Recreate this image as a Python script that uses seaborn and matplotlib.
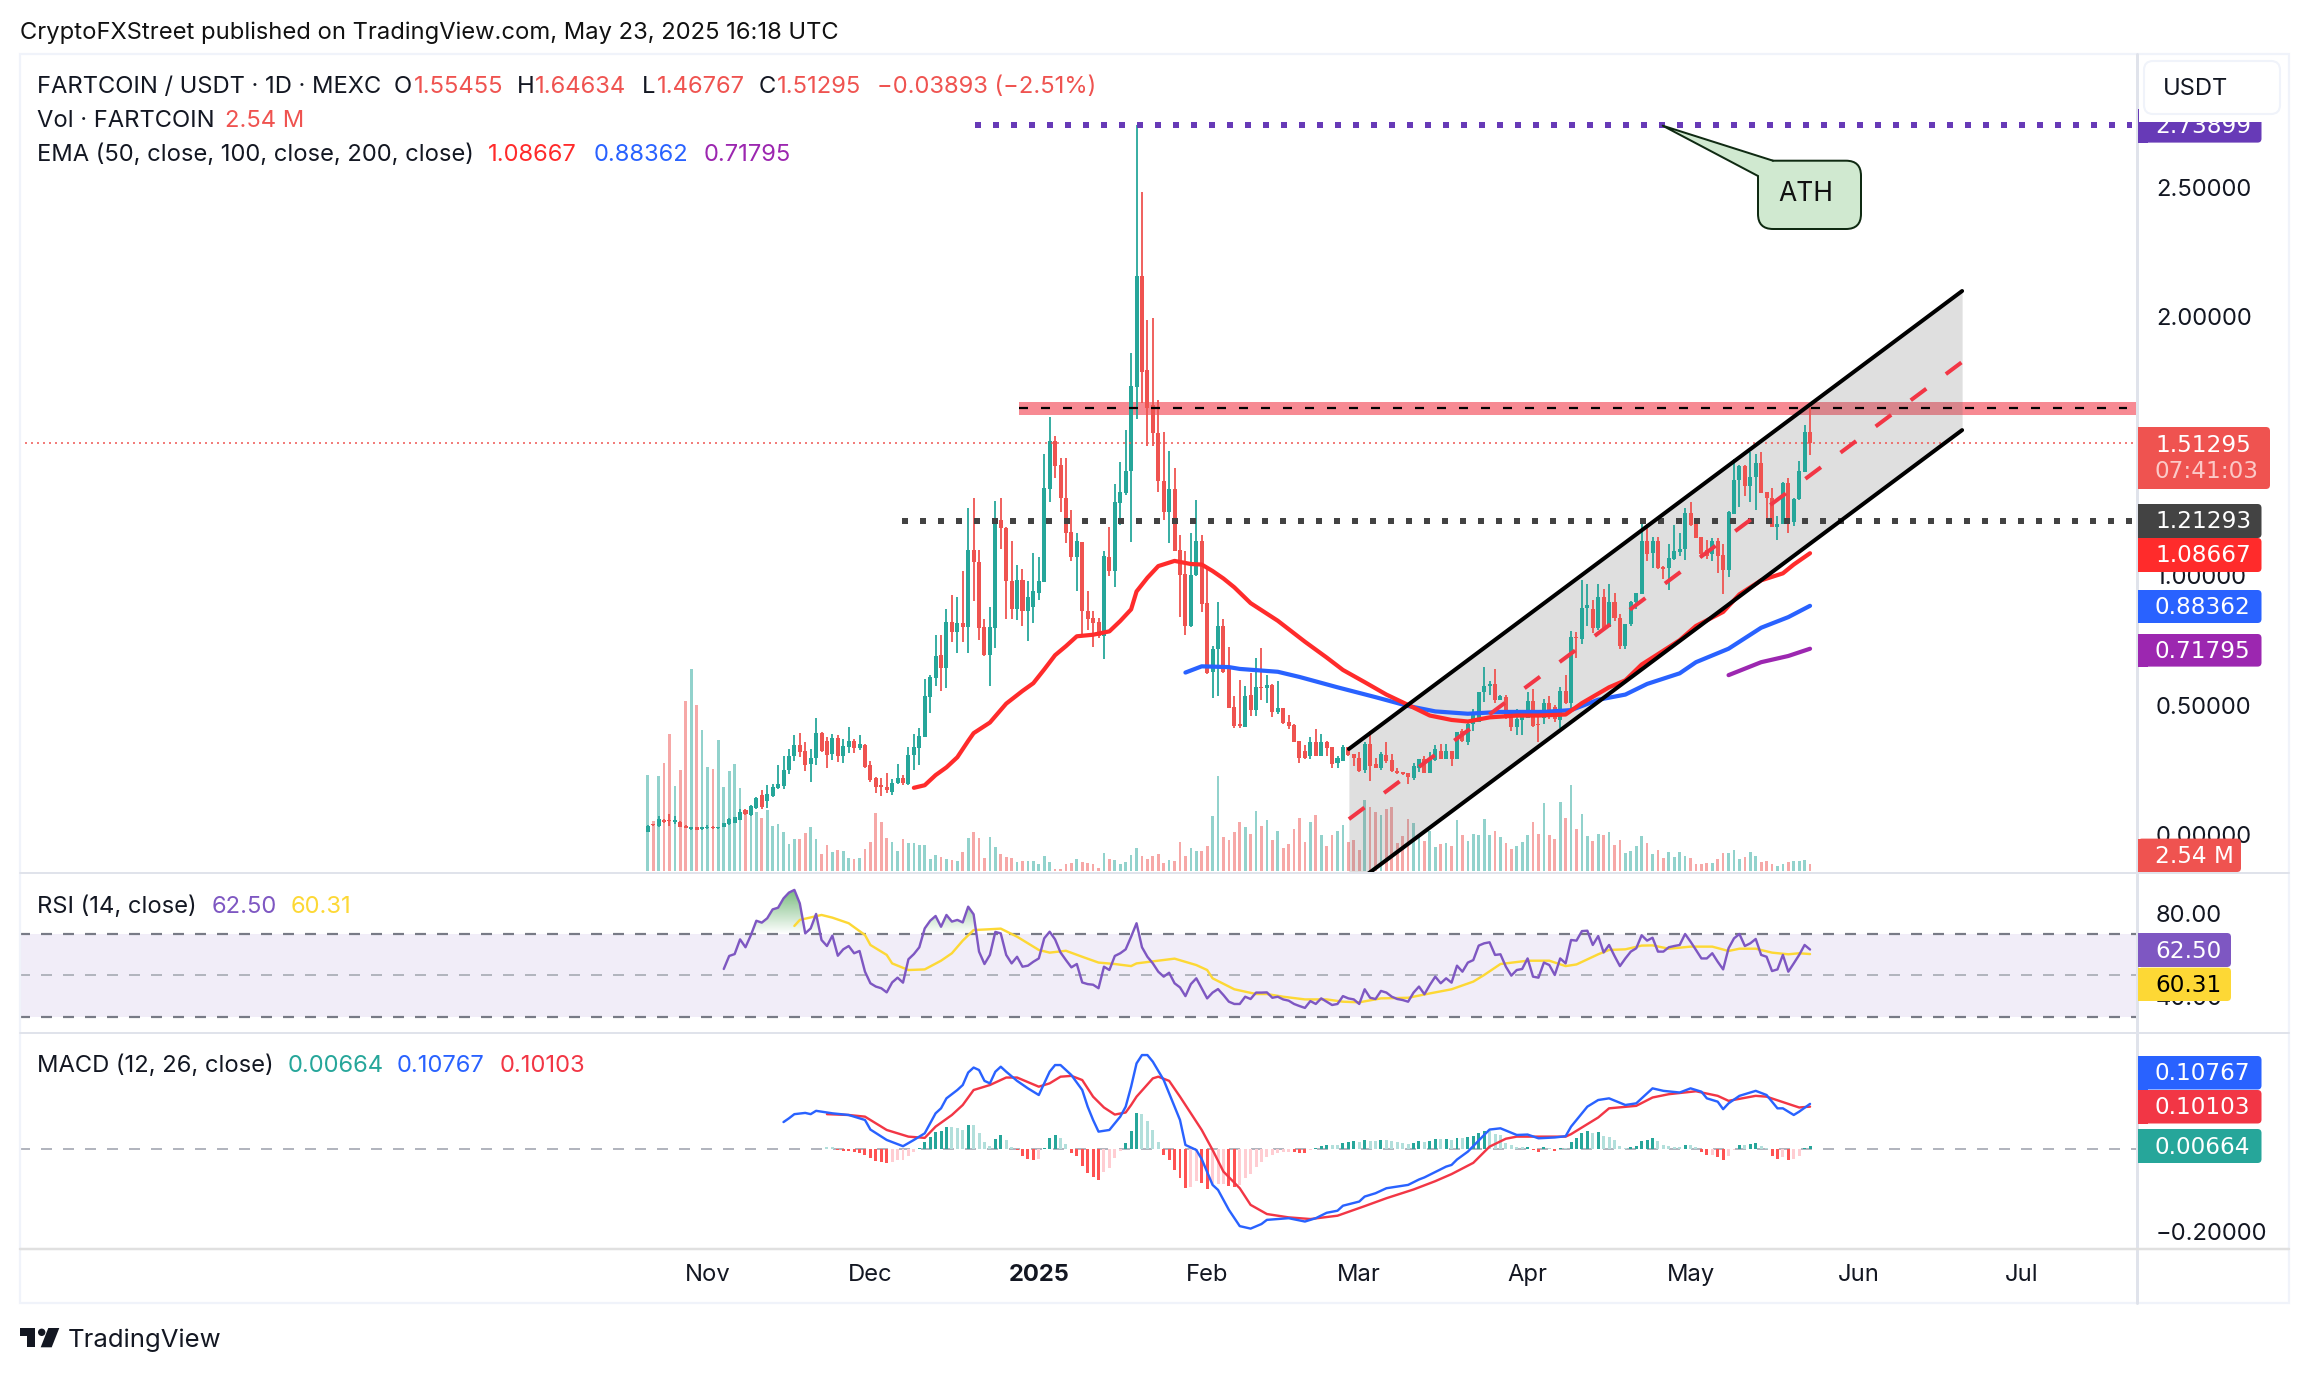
import numpy as np
import pandas as pd
import matplotlib
matplotlib.use("Agg")
import matplotlib.pyplot as plt
from matplotlib.patches import FancyBboxPatch, Rectangle, Polygon, Circle, PathPatch
import seaborn as sns

# candles, one per day, index 0 = 21 Oct 2024
open_px = [
    .012,.040,.035,.057,.055,.049,.049,.035,.022,.028,
    .022,.024,.031,.024,.030,.041,.047,.057,.094,.075,
    .102,.152,.132,.150,.181,.189,.248,.305,.346,.323,
    .272,.295,.394,.362,.311,.372,.305,.339,.362,.335,
    .348,.270,.220,.191,.185,.165,.201,.220,.197,.309,
    .335,.378,.531,.604,.693,.644,.821,.781,.817,.801,
    1.098,1.053,.801,.693,.799,1.215,1.185,.978,.870,.982,
    .864,.880,.933,.974,1.333,1.520,1.429,1.299,1.169,1.073,
    1.130,.864,.835,.821,.766,1.073,1.018,1.280,1.319,1.406,
    1.730,2.156,1.795,1.657,1.549,1.366,1.244,1.333,1.100,1.008,
    .805,1.004,1.134,.894,.629,.718,.806,.646,.494,.426,
    .415,.539,.483,.569,.565,.578,.474,.491,.437,.424,
    .361,.325,.304,.356,.304,.359,.338,.277,.284,.338,
    .311,.298,.250,.352,.273,.257,.307,.288,.246,.243,
    .237,.217,.257,.291,.237,.288,.325,.294,.325,.294,
    .399,.359,.429,.437,.551,.573,.582,.521,.532,.467,
    .415,.443,.451,.518,.429,.451,.510,.494,.443,.555,
    .510,.765,.754,.876,.871,.799,.917,.803,.898,.835,
    .727,.812,.898,.930,1.134,1.087,1.135,1.032,1.029,1.063,
    1.090,1.104,1.242,1.199,1.151,1.101,1.083,1.134,1.079,1.020,
    1.239,1.368,1.422,1.345,1.382,1.436,1.323,1.300,1.188,1.201,
    1.359,1.209,1.296,1.402,1.55455]
high_px = [
    .038,.042,.073,.060,.079,.073,.051,.037,.031,.030,
    .031,.037,.035,.031,.047,.063,.069,.098,.098,.114,
    .144,.171,.191,.195,.270,.303,.332,.384,.392,.358,
    .329,.451,.398,.378,.388,.386,.368,.417,.368,.384,
    .350,.283,.222,.220,.240,.216,.274,.230,.339,.388,
    .413,.600,.618,.772,.772,.870,.925,.917,1.018,1.260,
    1.299,1.098,.834,.880,1.287,1.299,1.189,1.134,1.043,1.027,
    .978,1.087,1.071,1.470,1.612,1.539,1.453,1.453,1.254,1.165,
    1.130,.939,.864,.835,1.096,1.189,1.352,1.437,1.563,1.860,
    2.739,2.480,1.988,1.996,1.677,1.555,1.480,1.417,1.156,1.096,
    1.165,1.293,1.158,1.036,.730,.898,.833,.724,.535,.596,
    .575,.623,.681,.722,.616,.580,.592,.491,.464,.426,
    .361,.345,.379,.409,.388,.361,.338,.304,.345,.338,
    .311,.318,.359,.399,.298,.318,.356,.311,.257,.243,
    .237,.275,.293,.304,.318,.345,.352,.352,.325,.396,
    .410,.433,.487,.551,.646,.592,.640,.541,.541,.467,
    .487,.474,.551,.564,.467,.524,.537,.501,.569,.616,
    .785,.781,.985,.966,.907,.966,.948,.966,.934,.853,
    .812,.901,.934,1.205,1.201,1.148,1.151,1.036,1.124,1.196,
    1.165,1.260,1.285,1.199,1.151,1.138,1.144,1.144,1.124,1.250,
    1.449,1.426,1.429,1.476,1.470,1.476,1.323,1.337,1.232,1.361,
    1.377,1.300,1.443,1.581,1.64634]
low_px = [
    .010,.035,.031,.047,.035,.043,.028,.024,.020,.018,
    .020,.022,.022,.022,.028,.039,.045,.055,.075,.072,
    .098,.100,.102,.146,.177,.177,.236,.283,.299,.244,
    .205,.270,.319,.256,.289,.280,.276,.315,.315,.327,
    .256,.205,.161,.148,.161,.152,.197,.191,.191,.250,
    .270,.378,.470,.573,.553,.567,.744,.703,.744,.703,
    .903,.752,.689,.575,.720,1.102,.832,.832,.830,.805,
    .748,.816,.905,.974,1.283,1.378,1.244,1.126,1.057,.939,
    .772,.791,.725,.761,.677,.998,.955,1.197,1.313,1.130,
    1.604,1.667,1.500,1.500,1.323,1.215,1.126,1.096,.841,.772,
    .801,.998,.860,.620,.528,.535,.623,.489,.413,.413,
    .415,.460,.460,.521,.508,.456,.467,.426,.410,.359,
    .277,.291,.291,.304,.304,.304,.257,.257,.284,.304,
    .264,.241,.239,.209,.257,.250,.277,.243,.234,.230,
    .194,.213,.241,.237,.237,.284,.294,.294,.266,.294,
    .359,.345,.399,.437,.514,.541,.508,.521,.447,.402,
    .386,.386,.451,.415,.356,.429,.447,.437,.413,.505,
    .487,.684,.735,.806,.779,.792,.799,.803,.826,.718,
    .718,.806,.873,.928,1.056,1.029,1.025,.989,.944,1.060,
    1.077,1.059,1.192,1.144,1.070,1.066,1.056,1.009,.928,.995,
    1.239,1.266,1.307,1.283,1.253,1.318,1.223,1.188,1.138,1.201,
    1.165,1.192,1.293,1.399,1.46767]
close_px = [
    .035,.037,.059,.049,.051,.057,.030,.026,.030,.020,
    .030,.030,.024,.030,.045,.061,.067,.087,.079,.110,
    .142,.106,.156,.185,.197,.250,.305,.346,.319,.268,
    .295,.394,.323,.309,.374,.305,.343,.362,.335,.350,
    .260,.211,.185,.185,.173,.201,.220,.201,.309,.339,
    .382,.535,.610,.689,.644,.821,.781,.817,.801,1.098,
    1.051,.797,.693,.801,1.220,1.185,.978,.870,.982,.864,
    .919,.939,.978,1.339,1.520,1.425,1.299,1.165,1.071,1.134,
    .862,.831,.817,.768,1.077,1.018,1.283,1.323,1.406,1.732,
    2.156,1.785,1.648,1.549,1.366,1.244,1.333,1.096,1.002,.807,
    1.004,1.134,.890,.623,.718,.806,.630,.491,.419,.419,
    .537,.483,.569,.565,.578,.474,.491,.433,.419,.359,
    .295,.295,.356,.304,.356,.336,.274,.298,.338,.307,
    .298,.246,.352,.264,.257,.311,.284,.246,.237,.234,
    .221,.264,.291,.239,.298,.332,.294,.325,.294,.396,
    .361,.429,.467,.551,.573,.582,.521,.535,.451,.415,
    .447,.453,.518,.419,.424,.510,.480,.447,.555,.510,
    .762,.758,.876,.887,.799,.917,.799,.898,.835,.727,
    .812,.898,.934,1.134,1.083,1.135,1.029,1.025,1.070,1.094,
    1.104,1.242,1.195,1.147,1.083,1.077,1.134,1.077,1.020,1.246,
    1.368,1.422,1.345,1.382,1.436,1.321,1.300,1.188,1.201,1.359,
    1.201,1.296,1.405,1.554,1.51295]
volume_m = [
    34.8,18.1,34.4,39.2,49.8,30.9,36.8,61.8,73.4,60.3,
    51.2,37.9,37,47.4,30.5,36.4,39,30,21.6,23.1,
    21.3,19.1,22.2,16.5,17,14.2,9.8,11.5,11.5,13.7,
    16.1,11.7,6.3,9.6,6.8,7.8,7.4,4.6,4.3,4.8,
    8,10.7,20.9,17.9,11.8,10.7,7.4,11.5,10.2,10,
    9.3,9.6,4.3,5.9,5,4.3,4.1,3.7,7,11.8,
    14.2,11.8,4.8,12.4,8.7,6.1,5.2,4.6,3.3,3.7,
    3.7,3.7,2.6,5.4,3.1,.9,.9,2.4,2.8,4.3,
    3.3,2.8,2.4,1.1,6.7,4.3,4.1,2.6,3.1,5.9,
    8.5,5.6,4.4,5.6,6.3,2.8,4.1,3.7,10.7,5.6,
    8.3,7.4,7.2,8.9,19.9,34.4,12.2,11.1,14.2,17.9,
    15.8,13.5,21.8,16.4,18.5,11.1,14.7,8.2,9.7,15.2,
    19.3,10.7,17.9,20.3,13.2,9.2,13,14.7,16.8,10.5,
    11.3,7.8,25.8,23.3,21.4,20.5,22.6,23.3,10.3,12.6,
    18.9,17.3,13.2,11,14.7,8.6,9.7,10.3,9.1,18.5,
    13.2,11,13.5,13,18.9,13,14.5,12.2,10.1,7.9,
    9.1,10.7,13.2,17.9,13.5,24.6,13.2,11.6,24.9,19.2,
    31.2,15.4,20.8,12.6,11,13.5,13.2,14,9.5,11.1,
    6.6,7.2,9.2,12.7,10.1,6.3,7.6,4.8,6.9,5,
    6.9,5.3,4.8,2.5,2.5,2.8,2.8,4.4,6.7,6.7,
    7.6,4.4,5,6.9,5.4,3.4,3.7,2.5,1.9,2.5,
    3.2,3.5,3.7,3.9,2.54]

# EMAs, read at these day indexes
ema50_x = [49,51,53,55,57,59,60,63,66,69,71,73,75,77,79,82,85,87,89,90,92,94,97,100,102,104,
           106,108,111,116,121,125,128,132,136,140,144,148,151,155,160,164,169,172,177,180,183,
           186,190,193,198,201,205,209,211,214]
ema50_y = [.181,.191,.230,.260,.299,.362,.392,.433,.506,.555,.585,.638,.693,.728,.766,.772,.785,
           .825,.870,.939,.992,1.037,1.057,1.045,1.043,1.018,.989,.955,.894,.826,.745,.684,.636,
           .589,.541,.501,.460,.443,.437,.453,.460,.460,.464,.508,.569,.596,.657,.697,.751,.806,
           .860,.928,.982,1.009,1.043,1.08667]
ema100_x = [99,102,107,109,116,120,127,134,140,145,151,157,165,170,175,180,184,190,193,199,205,210,214]
ema100_y = [.626,.650,.647,.640,.629,.609,.569,.531,.497,.476,.467,.474,.474,.481,.521,.541,.582,
            .623,.666,.718,.799,.840,.88362]
ema200_x = [199,205,210,214]
ema200_y = [.616,.666,.690,.71795]

# RSI from index 14
RSI_START = 14
rsi_values = [
    53.1,59.4,60.3,67.4,63.6,69.5,76.4,75.5,77.6,81.9,82.7,87.2,90,91.3,84.8,70.3,72.7,79.7,67.1,64.2,
    69.2,59.5,62.6,64.2,60.7,61.8,51.8,46.2,44.6,43.8,41.8,46.6,48.9,46.5,57.8,60.3,63.6,72.7,76.4,78.7,
    73.5,79.2,76,76.8,75.6,83.2,79.5,61.5,55.5,59.9,71,70.3,59.9,55.8,59,54.2,54.7,56.6,58.2,67.9,
    71.1,67.4,61.1,57.4,53.9,55.5,46.6,45.8,45.5,43.8,54.2,52.6,59.4,60.7,62.6,68.7,75.2,63.6,59,55.8,
    51.8,49.4,51.3,46.2,44.2,40,45.8,48.6,43.8,38.9,41.7,43.4,40.5,37.3,36.2,36.2,39.7,38.6,41.7,41.7,
    41.8,39.2,39.7,38.4,37.8,36.2,35.2,34.3,37.6,36.2,38.9,37.3,35.7,36.2,40,38.9,38.4,36.2,43.3,39.2,
    38.6,42.5,41.7,39.7,38.6,38.1,37.3,41.7,44.6,40.9,45.4,49.4,46.2,48.6,46.5,54.7,51.8,56.2,57.4,64.4,
    65.5,66,59.9,60.2,54.2,49.9,52.6,53.1,58.2,49.4,48.9,56.2,55,50.2,58.2,55.8,67.1,66.8,71.4,71.6,
    64.7,69,61.1,64.7,59.4,54.5,58.2,61.5,63.1,69.4,66.8,68.2,61.5,61.5,63.6,64.2,64.7,70,66.3,62.3,
    58.2,58.2,60.7,56.6,52.9,63.1,67.9,70,64.2,65.5,67.6,59.9,59,52.1,52.9,59.9,51.8,55.8,59.9,64.7,62.5]
rsi_ma_x = [27,28,32,34,37,40,41,44,45,48,51,54,56,58,60,63,65,68,72,74,77,80,83,86,89,90,97,101,103,104,
            108,112,114,117,121,125,128,131,135,140,144,148,152,154,157,162,166,169,171,175,177,180,183,
            185,188,192,196,199,201,204,207,210,212,214]
rsi_ma_y = [73.9,76.8,79.2,77.9,75.2,69.5,64.7,59.9,55.8,52.6,52.9,57.1,60.7,66.8,71.9,72.3,72.6,68.7,
            62.3,61,61.9,59,56.2,55.5,54.5,55.8,58.1,55,52.6,48.6,43.3,41,41,39.7,38.4,38.4,37.3,37,
            38.9,39.2,41.3,43.3,47,50.2,55.5,57.1,57.1,54.5,55.3,60.2,62.3,62.6,64.4,64.5,62.9,63.9,
            63.9,61.8,62.9,62.9,61,60.2,60.7,60.31]

# MACD
macd_x = [25,26,27,29,30,31,32,34,37,40,41,44,47,49,51,53,54,55,57,58,59,60,61,62,63,64,65,66,68,70,72,74,
          75,76,78,80,81,82,83,85,87,88,89,90,91,92,93,95,96,98,99,101,102,104,105,107,109,111,113,114,118,
          121,123,125,127,128,131,132,134,136,140,142,143,147,148,149,151,154,155,157,160,162,164,167,169,
          170,173,175,177,180,182,185,187,190,192,194,195,197,198,199,201,204,206,208,209,211,212,214]
macd_y = [.064,.073,.083,.086,.083,.091,.089,.085,.081,.069,.046,.021,.006,.021,.037,.085,.097,.121,.141,
          .153,.183,.195,.189,.163,.157,.185,.197,.185,.163,.145,.129,.185,.201,.201,.177,.141,.101,.069,
          .041,.045,.077,.101,.149,.205,.225,.225,.209,.165,.133,.069,.009,-.003,-.025,-.087,-.099,-.147,
          -.186,-.192,-.181,-.171,-.167,-.175,-.167,-.154,-.149,-.137,-.127,-.115,-.107,-.095,-.087,-.074,
          -.069,-.043,-.039,-.026,-.007,.033,.046,.049,.033,.034,.025,.027,.030,.053,.101,.117,.121,.105,
          .109,.145,.139,.135,.145,.137,.121,.113,.095,.109,.127,.139,.129,.097,.097,.081,.089,.10767]
signal_x = [33,37,40,44,48,51,53,56,58,60,63,66,68,72,74,76,78,80,82,84,86,88,89,90,93,94,96,98,100,102,104,
            106,109,111,114,118,122,127,132,136,141,145,148,152,155,158,160,169,170,175,177,182,185,188,193,
            197,199,204,206,212,214]
signal_y = [.083,.081,.077,.045,.029,.026,.053,.081,.105,.141,.153,.171,.171,.149,.157,.173,.175,.165,.125,
            .099,.082,.087,.105,.125,.169,.173,.163,.125,.085,.045,-.003,-.055,-.095,-.135,-.157,-.165,-.169,
            -.161,-.138,-.119,-.098,-.078,-.061,-.034,.005,.024,.029,.029,.035,.075,.097,.103,.123,.131,.138,
            .127,.115,.127,.125,.099,.10103]
HIST_START = 33
hist_values = [
    .005,.005,-.003,-.005,-.006,-.007,-.010,-.014,-.022,-.029,
    -.032,-.034,-.033,-.027,-.026,-.017,-.008,.002,.016,.027,
    .039,.042,.052,.052,.050,.045,.057,.057,.037,.016,
    .006,.023,.032,.021,.003,-.004,-.018,-.025,-.027,-.025,
    .002,.025,.032,.025,.011,-.010,-.018,-.042,-.058,-.068,
    -.075,-.055,-.046,-.022,-.005,.013,.042,.085,.083,.067,
    .045,.016,-.015,-.027,-.051,-.070,-.094,-.092,-.078,-.082,
    -.097,-.085,-.085,-.085,-.090,-.091,-.087,-.071,-.061,-.043,
    -.032,-.021,-.015,-.010,-.007,-.007,-.0075,-.010,-.0105,-.003,
    .002,.006,.009,.009,.009,.013,.017,.018,.015,.021,
    .018,.018,.021,.021,.018,.015,.013,.011,.014,.018,
    .016,.018,.024,.023,.024,.022,.026,.026,.028,.030,
    .037,.042,.042,.036,.032,.014,.009,.005,.003,.004,
    -.003,-.007,.003,.001,-.005,.002,.002,.015,.026,.037,
    .042,.038,.040,.030,.029,.020,.007,.001,.004,.006,
    .018,.021,.026,.018,.010,.006,.003,.003,.008,.008,
    .005,-.007,-.015,-.015,-.021,-.027,-.018,-.003,.009,.009,
    .011,.013,.006,.002,-.018,-.024,-.019,-.027,-.024,-.017,
    .002,.00664]

# levels drawn on the chart
ATH_LEVEL = 2.73899
SUPPORT_LEVEL = 1.21293
LAST_PRICE = 1.51295
RESIST_LOW, RESIST_MID, RESIST_HIGH = 1.622, 1.647, 1.670
CHANNEL_X = [129.1, 242]
CHANNEL_UP = [.331, 2.099]
CHANNEL_MID = [.060, 1.825]
CHANNEL_LOW = [-.206, 1.562]

month_ticks = [11, 41, 72, 103, 131, 162, 192, 223, 253]
month_labels = ["Nov", "Dec", "2025", "Feb", "Mar", "Apr", "May", "Jun", "Jul"]
price_ticks = [0, .5, 1, 2, 2.5]

UP, DOWN = "#26A69A", "#EF5350"
INK = "#131722"
W, H = 2308, 1374
PT = 0.72  # one picture pixel in points at dpi 100
FS = 17.1

sns.set_theme(style="white")
plt.rcParams["font.family"] = ["Inter", "DejaVu Sans"]
plt.rcParams["lines.scale_dashes"] = False
plt.rcParams["axes.unicode_minus"] = True

fig = plt.figure(figsize=(W / 100, H / 100), dpi=100, facecolor="white")


def px_axes(x0, y0, x1, y1):
    a = fig.add_axes([x0 / W, 1 - y1 / H, (x1 - x0) / W, (y1 - y0) / H])
    a.patch.set_visible(False)
    sns.despine(ax=a, left=True, bottom=True)
    a.set_xlim(XMIN, XMAX)
    return a


def draw_bars(a, xs, heights, color, width, bottoms=None, alpha=1.0, zorder=2):
    xs = np.asarray(xs)
    if len(xs) == 0:
        return
    if len(xs) > 1:
        width = width / np.min(np.diff(xs))
    kws = {} if bottoms is None else {"bottom": np.asarray(bottoms)}
    frame = pd.DataFrame({"day": xs, "size": np.asarray(heights)})
    sns.barplot(data=frame, x="day", y="size", native_scale=True, color=color, saturation=1,
                width=width, errorbar=None, linewidth=0, alpha=alpha, zorder=zorder, ax=a, **kws)


def hline(a, y, x0, x1, color, lw_px, on_px, off_px, zorder=5):
    a.plot([x0, x1], [y, y], color=color, lw=lw_px * PT, dashes=(on_px * PT, off_px * PT),
           dash_capstyle="butt", zorder=zorder)


XMIN, XMAX = -115.76, 274.2
ax_vol = px_axes(19, 54, 2137, 872)
ax = px_axes(19, 54, 2137, 872)
ax_rsi = px_axes(19, 873, 2137, 1032)
ax_macd = px_axes(19, 1033, 2137, 1249)

days = np.arange(len(close_px))
opens, highs, lows, closes = map(np.array, (open_px, high_px, low_px, close_px))
volume = np.array(volume_m)
is_up = closes >= opens

# volume sits behind everything else in the price pane
draw_bars(ax_vol, days[is_up], volume[is_up], UP, 0.5, alpha=0.5, zorder=1)
draw_bars(ax_vol, days[~is_up], volume[~is_up], DOWN, 0.5, alpha=0.5, zorder=1)

# resistance band and channel shade
ax.fill_between([68.3, XMAX], RESIST_LOW, RESIST_HIGH, color="#F23645", alpha=0.58, lw=0, zorder=1)
ax.fill_between(CHANNEL_X, CHANNEL_LOW, CHANNEL_UP, color="#787878", alpha=0.23, lw=0, zorder=1.5)

# candles
ax.vlines(days[is_up], lows[is_up], highs[is_up], color=UP, lw=1.8 * PT, zorder=2)
ax.vlines(days[~is_up], lows[~is_up], highs[~is_up], color=DOWN, lw=1.8 * PT, zorder=2)
body_low = np.minimum(opens, closes)
body_size = np.abs(closes - opens)
draw_bars(ax, days[is_up], body_size[is_up], UP, 0.74, bottoms=body_low[is_up], zorder=2.5)
draw_bars(ax, days[~is_up], body_size[~is_up], DOWN, 0.74, bottoms=body_low[~is_up], zorder=2.5)

# EMAs
for xs, ys, col in [(ema200_x, ema200_y, "#9C27B0"), (ema100_x, ema100_y, "#2962FF"),
                    (ema50_x, ema50_y, "#FF2B2B")]:
    sns.lineplot(x=xs, y=ys, color=col, linewidth=4.2 * PT, estimator=None, sort=False, ax=ax, zorder=3)

# levels and channel
hline(ax, LAST_PRICE, XMIN, XMAX, DOWN, 1.5, 2, 4, zorder=2.8)
hline(ax, ATH_LEVEL, 60.2, XMAX - 1, "#673AB7", 6, 6, 12)
hline(ax, SUPPORT_LEVEL, 46.9, XMAX - 1, "#434343", 6, 6, 12)
hline(ax, RESIST_MID, 68.3, 272.4, "black", 2.2, 9, 13)
sns.lineplot(x=CHANNEL_X, y=CHANNEL_UP, color="black", linewidth=4 * PT, estimator=None, ax=ax, zorder=5)
sns.lineplot(x=CHANNEL_X, y=CHANNEL_LOW, color="black", linewidth=4 * PT, estimator=None, ax=ax, zorder=5)
ax.plot(CHANNEL_X, CHANNEL_MID, color="#F23645", lw=4 * PT, dashes=(19.4 * PT, 24.4 * PT),
        dash_capstyle="butt", zorder=5)

ax_vol.set_ylim(-0.363, 296.6)
ax_vol.set_xlim(XMIN, XMAX)
ax_vol.set_xticks([])
ax_vol.set_yticks([])
ax_vol.set_xlabel("")
ax_vol.set_ylabel("")

ax.set_xlim(XMIN, XMAX)
ax.set_ylim(-0.144, 3.014)
ax.set_xticks([])
ax.yaxis.tick_right()
ax.set_yticks(price_ticks)
ax.set_yticklabels([f"{t:.5f}" for t in price_ticks], color=INK, fontsize=FS)
ax.tick_params(axis="y", length=0, pad=13.7)
ax.set_xlabel("")
ax.set_ylabel("")

# RSI pane
rsi_days = np.arange(RSI_START, RSI_START + len(rsi_values))
rsi = np.array(rsi_values)
ax_rsi.axhspan(30, 70, color="#7E57C2", alpha=0.1, lw=0, zorder=1)
hline(ax_rsi, 70, XMIN, XMAX, "#787B86", 2.2, 11, 11, zorder=2)
hline(ax_rsi, 30, XMIN, XMAX, "#787B86", 2.2, 11, 11, zorder=2)
hline(ax_rsi, 50, XMIN, XMAX, "#B2B5BE", 2.0, 11, 11, zorder=2)

green_fade = np.zeros((64, 2, 4))
green_fade[..., :3] = matplotlib.colors.to_rgb("#3E9E46")
green_fade[..., 3] = np.linspace(0.75, 0, 64)[:, None]
over = ax_rsi.fill_between(rsi_days, 70, rsi, where=rsi >= 70, interpolate=True, color="none", lw=0)
for path in over.get_paths():
    im = ax_rsi.imshow(green_fade, extent=(XMIN, XMAX, 70, 93), aspect="auto", zorder=1.5)
    im.set_clip_path(PathPatch(path, transform=ax_rsi.transData))

sns.lineplot(x=rsi_ma_x, y=rsi_ma_y, color="#FDD835", linewidth=2.4 * PT, estimator=None, ax=ax_rsi, zorder=3)
sns.lineplot(x=rsi_days, y=rsi, color="#7E57C2", linewidth=2.4 * PT, estimator=None, ax=ax_rsi, zorder=4)
ax_rsi.set_xlim(XMIN, XMAX)
ax_rsi.set_ylim(22.66, 99.47)
ax_rsi.set_xticks([])
ax_rsi.yaxis.tick_right()
ax_rsi.set_yticks([40, 80])
ax_rsi.set_yticklabels(["40.00", "80.00"], color=INK, fontsize=FS)
ax_rsi.tick_params(axis="y", length=0, pad=13.7)
ax_rsi.set_xlabel("")
ax_rsi.set_ylabel("")

# MACD pane
hist_days = np.arange(HIST_START, HIST_START + len(hist_values))
hist = np.array(hist_values)
prev = np.concatenate(([hist[0]], hist[:-1]))
groups = [((hist >= 0) & (hist > prev), "#26A69A"), ((hist >= 0) & (hist <= prev), "#B2DFDB"),
          ((hist < 0) & (hist >= prev), "#FFCDD2"), ((hist < 0) & (hist < prev), "#FF5252")]
hline(ax_macd, 0, XMIN, XMAX, "#B2B5BE", 2.0, 11, 11, zorder=1)
for mask, col in groups:
    draw_bars(ax_macd, hist_days[mask], hist[mask], col, 0.55, zorder=2)
sns.lineplot(x=signal_x, y=signal_y, color="#F23645", linewidth=2.4 * PT, estimator=None, ax=ax_macd, zorder=3)
sns.lineplot(x=macd_x, y=macd_y, color="#2962FF", linewidth=2.4 * PT, estimator=None, ax=ax_macd, zorder=4)
ax_macd.set_xlim(XMIN, XMAX)
ax_macd.set_ylim(-0.241, 0.278)
ax_macd.yaxis.tick_right()
ax_macd.set_yticks([-0.2])
ax_macd.set_yticklabels(["\u22120.20000"], color=INK, fontsize=FS)
ax_macd.set_xticks(month_ticks)
ax_macd.set_xticklabels(month_labels, color=INK, fontsize=FS)
ax_macd.get_xticklabels()[2].set_fontweight("bold")
ax_macd.tick_params(axis="y", length=0, pad=13.7)
ax_macd.tick_params(axis="x", length=0, pad=11)
ax_macd.set_xlabel("")
ax_macd.set_ylabel("")

# everything below is page furniture placed in picture pixels
ov = fig.add_axes([0, 0, 1, 1], zorder=10)
ov.set_xlim(0, W)
ov.set_ylim(H, 0)
ov.axis("off")
ov.patch.set_visible(False)


def label(x, y, s, color=INK, size=FS, z=6, **kw):
    ov.text(x, y + 2, s, color=color, fontsize=size, va="center", ha=kw.pop("ha", "left"), zorder=z, **kw)


def tag_text(y, s, color="white"):
    # tabular digits, like the axis of the original
    ov.text(2155, y + 1, s, color=color, fontsize=16.7, family="DejaVu Sans", va="center", zorder=6)


def price_tag(y0, y1, right, color, s, text_color="white"):
    ov.add_patch(FancyBboxPatch((2138, y0), right - 2138, y1 - y0, boxstyle="round,pad=0,rounding_size=4",
                                fc=color, ec="none", zorder=5))
    ov.add_patch(Rectangle((2138, y0), 10, y1 - y0, fc=color, ec="none", zorder=5))
    if s:
        tag_text((y0 + y1) / 2, s, text_color)


ov.add_patch(Rectangle((20, 54), 2269, 1249, fc="none", ec="#F0F3FA", lw=2.2 * PT, zorder=1))
ov.plot([2137, 2137], [54, 1303], color="#E0E3EB", lw=3 * PT, zorder=2)
ov.plot([20, 2289], [873, 873], color="#E0E3EB", lw=2 * PT, zorder=2)
ov.plot([20, 2289], [1032.5, 1032.5], color="#E0E3EB", lw=2 * PT, zorder=2)
ov.plot([20, 2289], [1249, 1249], color="#E0E0E0", lw=2.5 * PT, zorder=2)

price_tag(108.5, 142.6, 2261.5, "#673AB7", "2.73899")
price_tag(427, 489, 2270, "#EF5350", "")
tag_text(444, "1.51295")
tag_text(471, "07:41:03", color="#FBC9C7")
price_tag(504, 538, 2261.5, "#434343", "1.21293")
price_tag(538, 572, 2261.5, "#FF2B2B", "1.08667")
price_tag(590, 623, 2261.5, "#2962FF", "0.88362")
price_tag(634, 666.6, 2261.5, "#9C27B0", "0.71795")
price_tag(838.6, 872, 2241, "#EF5350", "2.54 M")
price_tag(933, 967, 2231, "#7E57C2", "62.50")
price_tag(967.6, 1001, 2231, "#FDD835", "60.31", text_color="black")
price_tag(1056, 1089.5, 2261.5, "#2962FF", "0.10767")
price_tag(1090, 1123.5, 2261.5, "#F23645", "0.10103")
price_tag(1129, 1163, 2261.5, "#26A69A", "0.00664")

# the currency button masks the top of the ATH tag
ov.add_patch(Rectangle((2139, 56), 148, 65.5, fc="white", ec="none", zorder=6.5))
ov.add_patch(FancyBboxPatch((2144, 61), 136, 53, boxstyle="round,pad=0,rounding_size=9",
                            fc="white", ec="#F0F3FA", lw=1.5, zorder=7))
label(2163, 87, "USDT", z=8)

label(20, 31, "CryptoFXStreet published on TradingView.com, May 23, 2025 16:18 UTC", color="#111111")
label(37, 85, "FARTCOIN / USDT \u00b7 1D \u00b7 MEXC")
for x, s, col in [(394, "O", INK), (414, "1.55455", DOWN), (517, "H", INK), (535, "1.64634", DOWN),
                  (642, "L", INK), (657, "1.46767", DOWN), (759, "C", INK), (777, "1.51295", DOWN),
                  (877, "\u22120.03893 (\u22122.51%)", DOWN)]:
    label(x, 85, s, color=col)
label(37, 119, "Vol \u00b7 FARTCOIN")
label(225, 119, "2.54 M", color=DOWN)
label(37, 153, "EMA (50, close, 100, close, 200, close)")
label(488, 153, "1.08667", color="#FF2B2B")
label(594, 153, "0.88362", color="#2962FF")
label(704, 153, "0.71795", color="#9C27B0")
label(37, 905, "RSI (14, close)")
label(212, 905, "62.50", color="#7E57C2")
label(291, 905, "60.31", color="#FDD835")
label(37, 1064, "MACD (12, 26, close)")
label(288, 1064, "0.00664", color=UP)
label(397, 1064, "0.10767", color="#2962FF")
label(500, 1064, "0.10103", color="#F23645")

# ATH callout
ov.add_patch(FancyBboxPatch((1758, 160.7), 103, 68.3, boxstyle="round,pad=0,rounding_size=15",
                            fc="#D0E9D0", ec="#0F2A12", lw=2 * PT, zorder=5))
ov.add_patch(Polygon([(1662.7, 125.7), (1773, 160.7), (1758, 176)], closed=True, fc="#D0E9D0", ec="none", zorder=5.5))
ov.plot([1773, 1662.7, 1758], [160.7, 125.7, 176], color="#0F2A12", lw=2 * PT, zorder=5.6)
ov.add_patch(Rectangle((1759, 162), 20, 20, fc="#D0E9D0", ec="none", zorder=5.5))
label(1806, 192, "ATH", ha="center", size=19, color="#111111")

# logo
ov.add_patch(Polygon([(20, 1328), (35, 1328), (35, 1347.3), (27.3, 1347.3), (27.3, 1336), (20, 1336)], fc=INK, ec="none"))
ov.add_patch(Circle((41.7, 1332.3), 3.7, fc=INK, ec="none"))
ov.add_patch(Polygon([(48.3, 1328), (59.3, 1328), (51.7, 1347.3), (40.7, 1347.3)], fc=INK, ec="none"))
label(68, 1338, "TradingView", size=18.5)

fig.savefig("out.png", dpi=100)
